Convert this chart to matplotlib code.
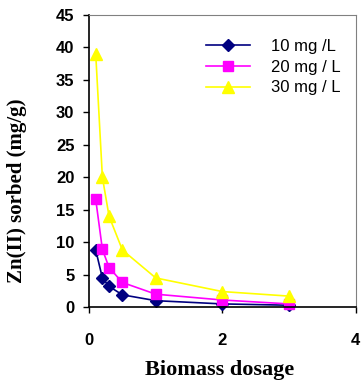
import matplotlib
matplotlib.use('Agg')
import matplotlib.pyplot as plt

# biomass dosage values
dosage = [0.1, 0.2, 0.3, 0.5, 1, 2, 3]
# Zn(II) sorbed (mg/g) for each initial concentration
zn_10 = [8.8, 4.5, 3.2, 1.9, 1.0, 0.5, 0.3]
zn_20 = [16.6, 8.9, 6.1, 3.8, 2.0, 1.1, 0.5]
zn_30 = [39.0, 20.0, 14.0, 8.8, 4.5, 2.4, 1.7]
labels = ['10 mg /L', '20 mg / L', '30 mg / L']

fig = plt.figure(figsize=(3.62, 3.83), dpi=100)
ax = fig.add_axes([0.246, 0.198, 0.737, 0.763])

ax.plot(dosage, zn_10, color='#000080', marker='D', markersize=6.5, lw=1.2, label=labels[0], clip_on=False)
ax.plot(dosage, zn_20, color='#FF00FF', marker='s', markersize=7.5, lw=1.2, label=labels[1], clip_on=False)
ax.plot(dosage, zn_30, color='#FFFF00', marker='^', markersize=9, lw=1.2, label=labels[2], clip_on=False)

ax.set_xlim(0, 4)
ax.set_ylim(0, 45)
ax.set_xticks([0, 2, 4])
ax.set_yticks(range(0, 50, 5))
ax.tick_params(direction='out', length=4.5, width=1, colors='black', pad=6)
for t in ax.get_xticklabels() + ax.get_yticklabels():
    t.set_fontfamily('Liberation Sans')
    t.set_fontweight('bold')
    t.set_fontsize(12)
ax.tick_params(axis='x', pad=14)

for s in ['top', 'right']:
    ax.spines[s].set_color('#808080')
for s in ['left', 'bottom']:
    ax.spines[s].set_color('black')
    ax.spines[s].set_linewidth(1.2)

ax.set_xlabel('Biomass dosage', fontfamily='Liberation Serif', fontweight='bold', fontsize=16, va='center')
ax.set_ylabel('Zn(II) sorbed (mg/g)', fontfamily='Liberation Serif', fontweight='bold', fontsize=15, va='center')
ax.xaxis.set_label_coords(0.49, -0.216)
ax.yaxis.set_label_coords(-0.27, 0.40)

ax.legend(loc='upper right', bbox_to_anchor=(1.0, 0.97), frameon=False,
          prop={'family': 'Liberation Sans', 'size': 12}, handlelength=2.6,
          labelspacing=0.35, handletextpad=1.3)

fig.savefig('out.png', dpi=100)
